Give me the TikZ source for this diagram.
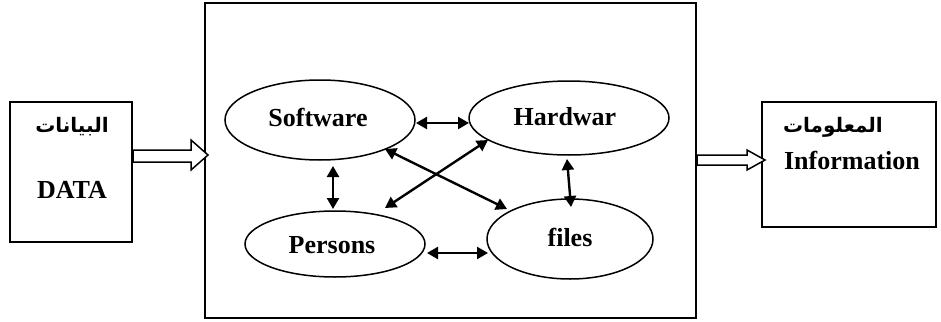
\documentclass[tikz,border=0pt]{standalone}
\usepackage{fontspec}
\setmainfont{Liberation Serif}
\newfontfamily\arabicfont[Script=Arabic]{DejaVu Sans}
\TeXXeTstate=1
\usetikzlibrary{shapes.geometric,arrows.meta,calc}
\tikzset{
  ell/.style={draw,ellipse,line width=1.5pt,inner sep=0pt},
  biarrow/.style={line width=2.4pt,{Triangle[length=11pt,width=12pt]}-{Triangle[length=11pt,width=12pt]}},
  box/.style={draw,line width=1.7pt},
  lbl/.style={font=\fontsize{26}{30}\selectfont\bfseries,inner sep=0pt},
  arlbl/.style={font=\arabicfont\fontsize{20}{24}\selectfont\bfseries,inner sep=0pt},
  blockarrow/.style={draw,line width=1.5pt,fill=white}
}
\begin{document}
\begin{tikzpicture}[x=1pt,y=-1pt]
\useasboundingbox (0,0) rectangle (941,321);
% boxes
\draw[box] (10,102) rectangle (132,242);
\draw[box] (205,3) rectangle (696,318);
\draw[box] (762,102) rectangle (936,227);
% left box texts
\node[arlbl] (ar1) at (72,127) {\beginR البيانات\endR};
\node[lbl] (data) at (72,190) {DATA};
% right box texts
\node[arlbl] (ar2) at (833,127) {\beginR المعلومات\endR};
\node[lbl] (info) at (852,160) {Information};
% block arrows
\draw[blockarrow] (133,150) -- (191,150) -- (191,140) -- (208,155) -- (191,170) -- (191,162) -- (133,162) -- cycle;
\draw[blockarrow] (697,155) -- (747,155) -- (747,150) -- (765,160) -- (747,170) -- (747,165) -- (697,165) -- cycle;
% ellipses
\node[ell,minimum width=190pt,minimum height=80pt] (sw) at (320,120) {};
\node[lbl] at (318,117) {Software};
\node[ell,minimum width=200pt,minimum height=74pt] (hw) at (569,118) {};
\node[lbl] at (565,117) {Hardwar};
\node[ell,minimum width=180pt,minimum height=66pt] (ps) at (335,244) {};
\node[lbl] at (332,245) {Persons};
\node[ell,minimum width=166pt,minimum height=80pt] (fl) at (570,239) {};
\node[lbl] at (570,237) {files};
% connectors
\draw[biarrow] ($(sw)+(96,3)$) -- ($(hw)+(-100,5)$);
\draw[biarrow] ($(sw)+(13,46)$) -- ($(ps)+(-2,-35)$);
\draw[biarrow] ($(hw)+(-2,41)$) -- ($(fl)+(1,-32)$);
\draw[biarrow] ($(ps)+(92,9)$) -- ($(fl)+(-82,14)$);
\draw[biarrow] ($(sw)+(65,29)$) -- ($(fl)+(-63,-30)$);
\draw[biarrow] ($(ps)+(50,-36)$) -- ($(hw)+(-81,22)$);
\end{tikzpicture}
\end{document}
